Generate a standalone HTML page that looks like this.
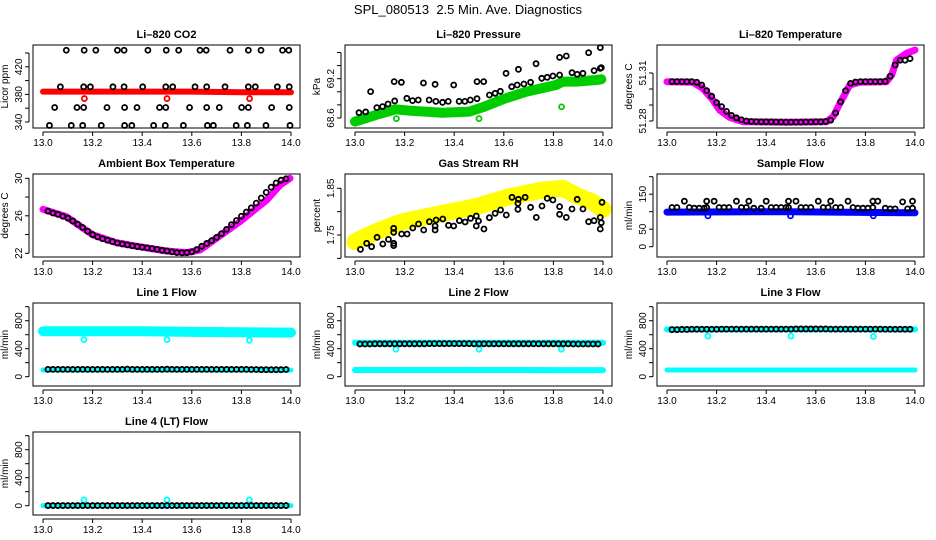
<!DOCTYPE html>
<html><head><meta charset="utf-8"><style>
html,body{margin:0;padding:0;background:#fff;}
svg{display:block;font-family:"Liberation Sans",sans-serif;}
</style></head><body>
<svg id="chart" width="936" height="540" viewBox="0 0 936 540" xmlns="http://www.w3.org/2000/svg">
<text x="468" y="14" font-size="13" text-anchor="middle" style="white-space:pre">SPL_080513  2.5 Min. Ave. Diagnostics</text>
</svg>
<script>
// ---- data ----
const xTicks = [13.0, 13.2, 13.4, 13.6, 13.8, 14.0];
const xTickLabels = ["13.0","13.2","13.4","13.6","13.8","14.0"];
const gridX = [13.02,13.04,13.06,13.08,13.10,13.12,13.14,13.16,13.18,13.20,13.22,13.24,13.26,13.28,13.30,13.32,13.34,13.36,13.38,13.40,13.42,13.44,13.46,13.48,13.50,13.52,13.54,13.56,13.58,13.60,13.62,13.64,13.66,13.68,13.70,13.72,13.74,13.76,13.78,13.80,13.82,13.84,13.86,13.88,13.90,13.92,13.94,13.96,13.98];

// CO2
const co2BlackX = [13.094,13.166,13.213,13.300,13.327,13.423,13.497,13.547,13.633,13.658,13.754,13.828,13.879,13.966,13.991,
 13.070,13.164,13.191,13.282,13.327,13.402,13.495,13.523,13.613,13.660,13.734,13.828,13.856,13.945,13.993,
 13.047,13.137,13.164,13.258,13.329,13.379,13.470,13.495,13.591,13.660,13.711,13.801,13.828,13.922,13.993,
 13.026,13.114,13.160,13.235,13.329,13.358,13.446,13.493,13.566,13.663,13.687,13.779,13.824,13.899,13.996];
const co2BlackY = [444,444,444,444,444,444,444,444,444,444,444,444,444,444,444,
 391,391,391,391,391,391,391,391,391,391,391,391,391,391,391,
 361,361,361,361,361,361,361,361,361,361,361,361,361,361,361,
 335,335,335,335,335,335,335,335,335,335,335,335,335,335,335];
const co2BandX = [13.0,13.2,13.4,13.6,13.8,14.0];
const co2BandY = [384,384,384,384,383,383];
const co2OutX = [13.167,13.50,13.833];
const co2OutY = [374,374,374];

// Pressure
const presBlackX = [13.016,13.043,13.063,13.088,13.111,13.133,13.160,13.158,13.187,13.209,13.232,13.255,13.276,13.299,13.323,13.326,13.353,13.376,13.398,13.420,13.443,13.465,13.492,13.492,13.519,13.542,13.565,13.586,13.609,13.632,13.654,13.659,13.681,13.708,13.730,13.753,13.775,13.798,13.825,13.825,13.852,13.875,13.896,13.919,13.942,13.964,13.989,13.989,13.993];
const presBlackY = [68.681,68.692,69.002,68.758,68.773,68.814,68.860,69.155,69.145,68.900,68.865,68.875,69.134,68.875,69.114,68.854,68.839,68.854,69.104,68.854,68.854,68.875,68.895,69.155,69.155,68.951,68.977,69.007,69.282,69.078,69.104,69.343,69.119,69.145,69.429,69.206,69.221,69.241,69.256,69.526,69.547,69.292,69.267,69.282,69.597,69.323,69.358,69.674,69.368];
const presBandX = [13.0,13.084,13.164,13.218,13.353,13.461,13.515,13.596,13.690,13.811,13.838,13.892,13.973,13.993];
const presBandY = [68.544,68.646,68.732,68.712,68.681,68.697,68.763,68.885,69.002,69.104,69.155,69.155,69.180,69.190];
const presOutX = [13.167,13.50,13.833];
const presOutY = [68.59,68.59,68.77];

// Li-820 temperature
const tempBandX = [13.0,13.104,13.144,13.185,13.212,13.252,13.306,13.481,13.643,13.670,13.697,13.737,13.778,13.885,13.906,13.926,13.966,14.0];
const tempBandY = [51.30458,51.30417,51.30042,51.29313,51.28688,51.28229,51.27958,51.27917,51.27958,51.28271,51.29104,51.3025,51.30417,51.30458,51.30875,51.31813,51.32229,51.32438];
const tempBlackY = [51.3046,51.3046,51.3046,51.3046,51.3046,51.3042,51.3025,51.2990,51.2955,51.2915,51.2890,51.2860,51.2835,51.2820,51.2808,51.2800,51.2797,51.2796,51.2795,51.2795,51.2795,51.2794,51.2794,51.2793,51.2793,51.2793,51.2793,51.2794,51.2794,51.2795,51.2795,51.2797,51.2805,51.2850,51.2920,51.2990,51.3035,51.3044,51.3046,51.3046,51.3046,51.3046,51.3046,51.3048,51.3080,51.3150,51.3180,51.3180,51.3190];

// Ambient box temperature
const ambBandX = [13.0,13.094,13.202,13.296,13.404,13.498,13.579,13.633,13.686,13.794,13.902,13.956,13.996];
const ambBandY = [26.69,25.91,23.95,23.13,22.64,22.25,22.07,22.35,23.35,25.37,27.69,29.29,30.0];
const ambBlackY = [26.5,26.3,26.15,25.95,25.75,25.45,25.1,24.75,24.35,24.0,23.75,23.55,23.4,23.25,23.1,23.0,22.9,22.8,22.72,22.65,22.58,22.5,22.42,22.32,22.25,22.15,22.08,22.05,22.07,22.15,22.4,22.75,23.05,23.35,23.7,24.1,24.55,25.05,25.5,25.95,26.4,26.85,27.35,27.9,28.5,29.05,29.5,29.8,29.95];

// Gas stream RH
const rhBandX = [13.0,13.085,13.192,13.354,13.489,13.623,13.758,13.838,13.892,13.960,14.0];
const rhBandY = [1.7357,1.7571,1.7785,1.7964,1.8107,1.8321,1.8464,1.85,1.835,1.82,1.805];
const rhBlackX = [13.022,13.047,13.067,13.089,13.112,13.135,13.156,13.156,13.156,13.156,13.188,13.210,13.233,13.256,13.277,13.300,13.323,13.323,13.327,13.354,13.377,13.398,13.421,13.444,13.466,13.489,13.489,13.498,13.520,13.542,13.565,13.587,13.610,13.633,13.657,13.657,13.659,13.686,13.708,13.731,13.754,13.775,13.798,13.825,13.825,13.852,13.875,13.896,13.919,13.942,13.964,13.989,13.989,13.993,13.996];
const rhBlackY = [1.7193,1.7322,1.7250,1.7450,1.7307,1.7407,1.7322,1.7272,1.7557,1.7643,1.7521,1.7521,1.7650,1.7736,1.7607,1.7785,1.7607,1.7693,1.7821,1.7843,1.7707,1.7693,1.7807,1.7778,1.7857,1.7907,1.7693,1.7800,1.7628,1.7871,1.7964,1.8035,1.7928,1.8307,1.8178,1.8050,1.8264,1.8307,1.8093,1.7878,1.8121,1.8285,1.8249,1.8107,1.7943,1.7878,1.8057,1.8264,1.8057,1.7785,1.7807,1.7628,1.7878,1.7764,1.8200];

// Sample flow
const sfBandX = [13.0,13.5,14.0];
const sfBandY = [99,100,97];
const sfOutX = [13.165,13.498,13.832];
const sfOutY = [88,88,88];
const sfBlackX = [13.02,13.04,13.07,13.09,13.11,13.13,13.15,13.16,13.16,13.19,13.21,13.23,13.25,13.28,13.30,13.32,13.33,13.35,13.38,13.40,13.42,13.44,13.46,13.48,13.49,13.49,13.52,13.54,13.56,13.58,13.61,13.63,13.65,13.66,13.68,13.70,13.73,13.75,13.77,13.79,13.81,13.83,13.83,13.85,13.88,13.90,13.92,13.95,13.97,13.99,13.99];
const sfBlackY = [112,112,130,112,110,110,110,112,130,130,112,112,112,130,112,112,130,110,110,130,112,112,112,112,112,130,130,112,112,112,130,112,112,130,112,112,130,112,110,110,110,112,130,130,110,108,108,128,108,110,130];

// Line flows
const l1High = [650,650,648,640,635,630]; const flowBandX = [13.0,13.2,13.4,13.6,13.8,14.0];
const l1Low = [96,96,96,96,96,94];
const l1Out = [530,530,520]; const flowOutX = [13.165,13.50,13.832];
const l1Black = [105,105,105,105,105,105,105,105,105,105,105,105,105,105,105,105,108,105,105,105,105,105,105,105,107,105,105,105,105,105,105,105,105,105,105,105,105,105,105,105,105,103,103,100,100,100,100,100,103];
const l2High = [486,486,486,486,486,484];
const l2Low = [96,96,96,96,94,94];
const l2Out = [393,393,393];
const l2Black = [467,467,467,470,470,470,470,470,470,470,470,470,470,470,472,472,472,472,472,472,472,472,472,470,470,470,470,470,470,470,470,470,470,470,470,470,470,470,470,470,470,470,470,467,467,467,467,467,467];
const l3High = [676,676,676,676,676,676];
const l3Low = [96,96,96,96,95,95];
const l3Out = [580,580,575];
const l3Black = [672,672,675,675,678,678,678,678,678,678,680,680,680,680,680,680,680,680,680,680,680,680,680,680,680,682,682,682,682,682,682,682,680,680,680,680,680,680,680,680,680,680,680,678,678,678,678,678,678];
const l4Low = [2,2,2,2,2,2];
const l4Out = [82,82,82];
const l4Black = [2,2,2,2,2,2,2,2,2,2,2,2,2,2,2,2,2,2,2,2,2,2,2,2,2,2,2,2,2,2,2,2,2,2,2,2,2,2,2,2,2,2,2,2,2,2,2,2,2];

// ---- rendering ----
const svg = document.getElementById('chart');
const NS = 'http://www.w3.org/2000/svg';
function mk(tag, attrs, parent){ const e=document.createElementNS(NS,tag); for(const k in attrs) e.setAttribute(k,attrs[k]); (parent||svg).appendChild(e); return e; }
const cols=[33,345,657], rows=[45,174,303,432], W=267, H=83;

function panel(slug, title, col, row, ymin, ymax, yTicks, yLabels, ylab){
  const L=cols[col], T=rows[row];
  const g=mk('g',{});
  
  
  const sx = x => L+10+(x-13)*248;
  const sy = v => T+H-(v-ymin)/(ymax-ymin)*H;
  const t=mk('text',{x:L+W/2,y:T-7,'font-size':11,'font-weight':'bold','text-anchor':'middle'},g);
  t.textContent=title;
  
  
  const box=mk('rect',{x:L,y:T,width:W,height:H,fill:'none',stroke:'#000','stroke-width':1},g);
  
  
  const xa=mk('g',{},g);
  
  
  mk('line',{x1:sx(13),x2:sx(14),y1:T+H+4,y2:T+H+4,stroke:'#000'},xa);
  xTicks.forEach((v,i)=>{
    mk('line',{x1:sx(v),x2:sx(v),y1:T+H+4,y2:T+H+8,stroke:'#000'},xa);
    const tl=mk('text',{x:sx(v),y:T+H+18,'font-size':10,'text-anchor':'middle'},xa);
    tl.textContent=xTickLabels[i];
    
    
  });
  const ya=mk('g',{},g);
  
  
  mk('line',{x1:L-4,x2:L-4,y1:sy(yTicks[0]),y2:sy(yTicks[yTicks.length-1]),stroke:'#000'},ya);
  yTicks.forEach((v,i)=>{
    mk('line',{x1:L-8,x2:L-4,y1:sy(v),y2:sy(v),stroke:'#000'},ya);
    if(yLabels[i]){
      const tl=mk('text',{x:0,y:0,'font-size':10,'text-anchor':'middle',transform:`translate(${L-11},${sy(v)}) rotate(-90)`},ya);
      tl.textContent=yLabels[i];
      
      
    }
  });
  const yt=mk('text',{x:0,y:0,'font-size':10,'text-anchor':'middle',transform:`translate(${L-25},${T+H/2}) rotate(-90)`},g);
  yt.textContent=ylab;
  
  
  const clip=mk('g',{},g);
  return {g:clip,sx,sy};
}
function band(p, xs, ys, color, w, name){
  const pts=xs.map((x,i)=>p.sx(x).toFixed(1)+','+p.sy(ys[i]).toFixed(1)).join(' ');
  const e=mk('polyline',{points:pts,fill:'none',stroke:color,'stroke-width':w,'stroke-linecap':'round','stroke-linejoin':'round'},p.g);
  
  
}
function pts(p, xs, ys, color, name){
  const gg=mk('g',{},p.g);
  
  
  xs.forEach((x,i)=>{
    mk('circle',{cx:p.sx(x),cy:p.sy(ys[i]),r:2.5,fill:'none',stroke:color,'stroke-width':1.8},gg);
  });
}

let p;
p=panel('co2','Li\u2013820 CO2',0,0,331.3,451.6,[340,360,380,400,420,440],['340','','380','','420',''],'Licor ppm');
band(p,co2BandX,co2BandY,'#ff0000',6,'co2-red-band');
pts(p,co2OutX,co2OutY,'#ff0000','co2-red-outliers');
pts(p,co2BlackX,co2BlackY,'#000','co2-black-points');

p=panel('pressure','Li\u2013820 Pressure',1,0,68.447,69.7145,[68.6,68.8,69.0,69.2,69.4,69.6],['68.6','','','69.2','',''],'kPa');
band(p,presBandX,presBandY,'#00cc00',10,'pressure-green-band');
pts(p,presOutX,presOutY,'#00cc00','pressure-green-outliers');
pts(p,presBlackX,presBlackY,'#000','pressure-black-points');

p=panel('li-temp','Li\u2013820 Temperature',2,0,51.27563,51.3275,[51.28,51.29,51.30,51.31],['51.28','','','51.31'],'degrees C');
band(p,tempBandX,tempBandY,'#ff00ff',7,'li-temp-magenta-band');
pts(p,gridX,tempBlackY,'#000','li-temp-black-points');

p=panel('ambient','Ambient Box Temperature',0,1,21.605,30.459,[22,24,26,28,30],['22','','26','','30'],'degrees C');
band(p,ambBandX,ambBandY,'#ff00ff',7,'ambient-magenta-band');
pts(p,gridX,ambBlackY,'#000','ambient-black-points');

p=panel('rh','Gas Stream RH',1,1,1.7029,1.8806,[1.70,1.75,1.80,1.85],['','1.75','','1.85'],'percent');
band(p,rhBandX,rhBandY,'#ffff00',17,'rh-yellow-band');
pts(p,rhBlackX,rhBlackY,'#000','rh-black-points');

p=panel('sample-flow','Sample Flow',2,1,-29.4,207.7,[0,50,100,150,200],['0','50','','150',''],'ml/min');
band(p,sfBandX,sfBandY,'#0000ff',7,'sample-flow-blue-band');
pts(p,sfOutX,sfOutY,'#0000ff','sample-flow-blue-outliers');
pts(p,sfBlackX,sfBlackY,'#000','sample-flow-black-points');

const fT=[0,200,400,600,800,1000], fL=['0','','400','','800',''];
p=panel('line1-flow','Line 1 Flow',0,2,-132.9,1052.9,fT,fL,'ml/min');
band(p,flowBandX,l1High,'#00ffff',10,'line1-cyan-high-band');
band(p,flowBandX,l1Low,'#00ffff',5,'line1-cyan-low-band');
pts(p,flowOutX,l1Out,'#00ffff','line1-cyan-outliers');
pts(p,gridX,l1Black,'#000','line1-black-points');

p=panel('line2-flow','Line 2 Flow',1,2,-132.9,1052.9,fT,fL,'ml/min');
band(p,flowBandX,l2High,'#00ffff',6,'line2-cyan-high-band');
band(p,flowBandX,l2Low,'#00ffff',6,'line2-cyan-low-band');
pts(p,flowOutX,l2Out,'#00ffff','line2-cyan-outliers');
pts(p,gridX,l2Black,'#000','line2-black-points');

p=panel('line3-flow','Line 3 Flow',2,2,-132.9,1052.9,fT,fL,'ml/min');
band(p,flowBandX,l3High,'#00ffff',6,'line3-cyan-high-band');
band(p,flowBandX,l3Low,'#00ffff',5,'line3-cyan-low-band');
pts(p,flowOutX,l3Out,'#00ffff','line3-cyan-outliers');
pts(p,gridX,l3Black,'#000','line3-black-points');

p=panel('line4-flow','Line 4 (LT) Flow',0,3,-132.9,1052.9,fT,fL,'ml/min');
band(p,flowBandX,l4Low,'#00ffff',5,'line4-cyan-band');
pts(p,flowOutX,l4Out,'#00ffff','line4-cyan-outliers');
pts(p,gridX,l4Black,'#000','line4-black-points');
</script>
</body></html>
